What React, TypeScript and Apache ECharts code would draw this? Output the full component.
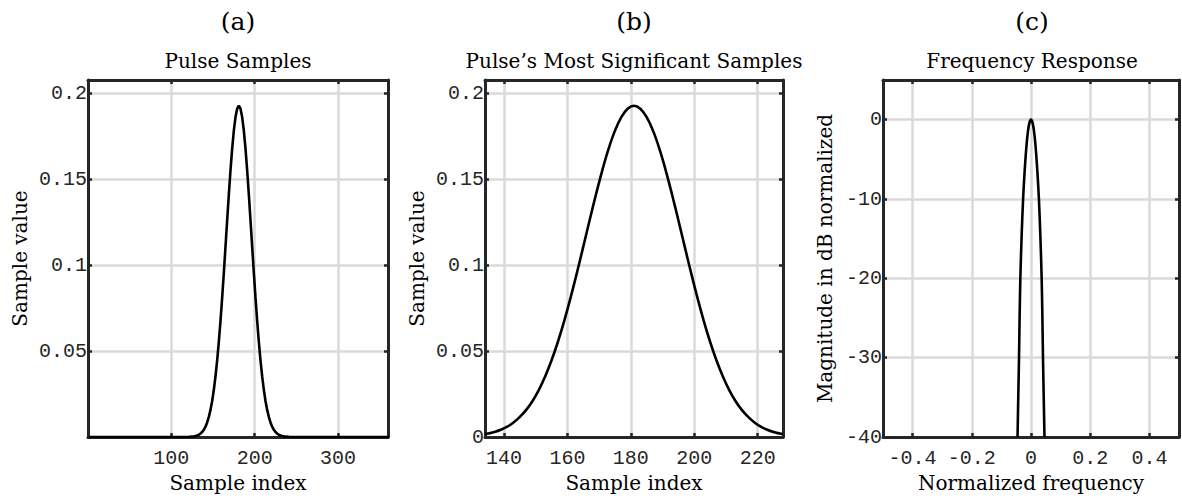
import React, { useEffect, useRef } from "react";
import * as echarts from "echarts";

// ---- data ----
const pulseIdx = [134, 135, 137, 139, 141, 143, 145, 147, 149, 151, 153, 155, 157, 159, 161, 163, 165, 167, 169, 171, 173, 175, 177, 179, 181, 183, 185, 187, 189, 191, 193, 195, 197, 199, 201, 203, 205, 207, 209, 211, 213, 215, 217, 219, 221, 223, 225, 227, 228];
const pulseVal = [0.0016, 0.002, 0.0029, 0.0042, 0.006, 0.0085, 0.0117, 0.0158, 0.021, 0.0275, 0.0354, 0.0447, 0.0555, 0.0677, 0.0812, 0.0957, 0.1109, 0.1263, 0.1413, 0.1554, 0.168, 0.1785, 0.1864, 0.1913, 0.193, 0.1913, 0.1864, 0.1785, 0.168, 0.1554, 0.1413, 0.1263, 0.1109, 0.0957, 0.0812, 0.0677, 0.0555, 0.0447, 0.0354, 0.0275, 0.021, 0.0158, 0.0117, 0.0085, 0.006, 0.0042, 0.0029, 0.002, 0.0016];
const tailLeftIdx = [1, 115, 121, 125, 129, 131, 133];
const tailLeftVal = [0, 0, 0.0001, 0.0002, 0.0006, 0.0009, 0.0013];
const tailRightIdx = [229, 231, 233, 237, 241, 247, 361];
const tailRightVal = [0.0013, 0.0009, 0.0006, 0.0002, 0.0001, 0, 0];

const freqF = [-0.0455, -0.043, -0.0405, -0.0385, -0.036, -0.0315, -0.0267, -0.022, -0.017, -0.012, -0.006, 0, 0.006, 0.012, 0.017, 0.022, 0.0267, 0.0315, 0.036, 0.0385, 0.0405, 0.043, 0.0455];
const freqDb = [-40, -35, -30, -25, -20, -14.5, -10, -6.8, -4.1, -2.0, -0.5, 0, -0.5, -2.0, -4.1, -6.8, -10, -14.5, -20, -25, -30, -35, -40];

const xTicksA = [100, 200, 300];
const yTicksA = [0.05, 0.1, 0.15, 0.2];
const xTicksB = [140, 160, 180, 200, 220];
const yTicksB = [0, 0.05, 0.1, 0.15, 0.2];
const xTicksC = [-0.4, -0.2, 0, 0.2, 0.4];
const yTicksC = [-40, -30, -20, -10, 0];

const panelLabels = ["(a)", "(b)", "(c)"];
const panelTitles = ["Pulse Samples", "Pulse\u2019s Most Significant Samples", "Frequency Response"];

// ---- styling ----
const FRAME = "#262626";
const GRIDC = "#dadada";
const MONO = "Liberation Mono";
const SERIF = "DejaVu Serif";

const grids = [
  { left: 88, top: 80, width: 300, height: 357 },
  { left: 485, top: 80, width: 298, height: 357 },
  { left: 883, top: 80, width: 298, height: 357 },
];

function fmt(list: number[]) {
  return (v: number) => {
    const hit = list.find((l) => Math.abs(l - v) < 1e-9);
    return hit === undefined ? "" : String(hit);
  };
}

function xAxes(gi: number, min: number, max: number, step: number, ticks: number[], name: string) {
  const base: any = {
    type: "value",
    gridIndex: gi,
    min,
    max,
    minInterval: step,
    maxInterval: step,
    axisLine: { show: true, onZero: false, lineStyle: { color: FRAME, width: 3 } },
    axisTick: { show: true, inside: true, length: 4, lineStyle: { color: FRAME, width: 2.5 } },
  };
  return [
    {
      ...base,
      position: "bottom",
      splitLine: { show: true, lineStyle: { color: GRIDC, width: 2.5 } },
      axisLabel: { show: true, margin: 11, color: FRAME, fontFamily: MONO, fontSize: 20, formatter: fmt(ticks), showMinLabel: true, showMaxLabel: true },
      name,
      nameLocation: "middle",
      nameGap: 36,
      nameTextStyle: { fontFamily: SERIF, fontSize: 20, color: "#000" },
    },
    { ...base, position: "top", splitLine: { show: false }, axisLabel: { show: false } },
  ];
}

function yAxes(gi: number, min: number, max: number, step: number, ticks: number[], name: string, gap: number) {
  const base: any = {
    type: "value",
    gridIndex: gi,
    min,
    max,
    minInterval: step,
    maxInterval: step,
    axisLine: { show: true, onZero: false, lineStyle: { color: FRAME, width: 3 } },
    axisTick: { show: true, inside: true, length: 4, lineStyle: { color: FRAME, width: 2.5 } },
  };
  return [
    {
      ...base,
      position: "left",
      splitLine: { show: true, lineStyle: { color: GRIDC, width: 2.5 } },
      axisLabel: { show: true, margin: 1, color: FRAME, fontFamily: MONO, fontSize: 20, formatter: fmt(ticks), showMinLabel: true, showMaxLabel: true },
      name,
      nameLocation: "middle",
      nameGap: gap,
      nameRotate: 90,
      nameTextStyle: { fontFamily: SERIF, fontSize: 20, color: "#000" },
    },
    { ...base, position: "right", splitLine: { show: false }, axisLabel: { show: false } },
  ];
}

export default function App() {
  const ref = useRef<HTMLDivElement>(null);
  useEffect(() => {
    if (!ref.current) return;
    const chart = echarts.init(ref.current, undefined, { renderer: "svg" });

    const dataA: number[][] = [];
    tailLeftIdx.forEach((x, i) => dataA.push([x, tailLeftVal[i]]));
    pulseIdx.forEach((x, i) => dataA.push([x, pulseVal[i]]));
    tailRightIdx.forEach((x, i) => dataA.push([x, tailRightVal[i]]));
    const dataB = pulseIdx.map((x, i) => [x, pulseVal[i]]);
    const dataC = freqF.map((f, i) => [f, freqDb[i]]);

    const graphics: any[] = [];
    grids.forEach((g, i) => {
      const cx = g.left + g.width / 2;
      graphics.push({
        type: "text",
        x: cx,
        y: 21,
        style: { text: panelLabels[i], font: `25px '${SERIF}'`, fill: "#000", align: "center", verticalAlign: "middle" },
      });
      graphics.push({
        type: "text",
        x: cx,
        y: 61,
        style: { text: panelTitles[i], font: `20px '${SERIF}'`, fill: "#000", align: "center", verticalAlign: "middle" },
      });
    });

    const lineStyle = { color: "#000", width: 2.6 };

    chart.setOption({
      animation: false,
      backgroundColor: "#fff",
      grid: grids,
      xAxis: [
        ...xAxes(0, 0, 360, 100, xTicksA, "Sample index"),
        ...xAxes(1, 134, 228, 20, xTicksB, "Sample index"),
        ...xAxes(2, -0.5, 0.5, 0.2, xTicksC, "Normalized frequency"),
      ],
      yAxis: [
        ...yAxes(0, 0, 0.208, 0.05, yTicksA, "Sample value", 58),
        ...yAxes(1, 0, 0.208, 0.05, yTicksB, "Sample value", 58),
        ...yAxes(2, -40, 5, 10, yTicksC, "Magnitude in dB normalized", 48),
      ],
      graphic: graphics,
      series: [
        { type: "line", xAxisIndex: 0, yAxisIndex: 0, data: dataA, showSymbol: false, lineStyle, clip: true, z: 5 },
        { type: "line", xAxisIndex: 2, yAxisIndex: 2, data: dataB, showSymbol: false, smooth: 0.4, lineStyle, clip: true, z: 5 },
        { type: "line", xAxisIndex: 4, yAxisIndex: 4, data: dataC, showSymbol: false, smooth: 0.3, lineStyle, clip: true, z: 5 },
      ],
    });
    return () => chart.dispose();
  }, []);
  return <div ref={ref} style={{ position: "absolute", left: 0, top: 0, width: 1182, height: 502 }} />;
}
